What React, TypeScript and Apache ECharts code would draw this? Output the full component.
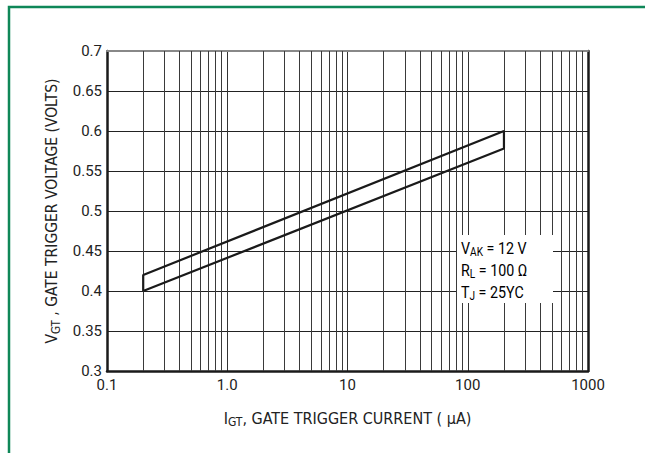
import React, { useEffect, useRef } from "react";
import * as echarts from "echarts";

const xMinorGrid = [0.2, 0.3, 0.4, 0.5, 0.6, 0.7, 0.8, 0.9, 2, 3, 4, 5, 6, 7, 8, 9, 20, 30, 40, 50, 60, 70, 80, 90, 200, 300, 400, 500, 600, 700, 800, 900];
const lowerBound = [[0.2, 0.4], [200, 0.578]];
const upperBound = [[0.2, 0.42], [200, 0.6]];
const conditions = ["V_AK = 12 V", "R_L = 100 Ω", "T_J = 25ΥC"];

const TITLE_FONT = "'DejaVu Sans Condensed', 'DejaVu Sans', sans-serif";
const TICK_FONT = "Roboto, 'Noto Sans', sans-serif";

function makeRich(size: number, sub: number, family: string) {
  return {
    a: { fontFamily: family, fontSize: size, color: "#222", lineHeight: 20, verticalAlign: "middle" },
    s: { fontFamily: family, fontSize: sub, color: "#222", lineHeight: 9, verticalAlign: "bottom" },
  };
}

export default function App() {
  const ref = useRef<HTMLDivElement>(null);
  useEffect(() => {
    if (!ref.current) return;
    const chart = echarts.init(ref.current, undefined, { renderer: "svg" });
    const outline = [lowerBound[0], lowerBound[1], upperBound[1], upperBound[0], lowerBound[0]];
    const condLines = conditions.map((c) => {
      const m = c.match(/^(\w)_(\w+)(.*)$/);
      return m ? `{a|${m[1]}}{s|${m[2]}}{a|${m[3]}}` : `{a|${c}}`;
    });
    chart.setOption({
      animation: false,
      backgroundColor: "#fff",
      grid: { left: 107, right: 57, top: 51, bottom: 82 },
      xAxis: [
        {
          type: "log",
          logBase: 10,
          min: 0.1,
          max: 1000,
          position: "bottom",
          axisLine: { show: true, lineStyle: { color: "#1a1a1a", width: 2.5 } },
          axisTick: { show: false },
          axisLabel: {
            margin: 6,
            fontFamily: TICK_FONT,
            fontSize: 15,
            color: "#222",
            formatter: (v: number) => (v === 1 ? "1.0" : String(v)),
          },
          splitLine: { show: true, lineStyle: { color: "#333", width: 1 } },
          name: "{a|I}{s|GT}{a|, GATE TRIGGER CURRENT ( μA)}",
          nameLocation: "middle",
          nameGap: 37,
          nameTextStyle: { rich: makeRich(16, 12, TITLE_FONT) },
        },
        {
          type: "log",
          logBase: 10,
          min: 0.1,
          max: 1000,
          position: "top",
          axisLine: { show: true, lineStyle: { color: "#888", width: 2 } },
          axisTick: { show: false },
          axisLabel: { show: false },
          splitLine: { show: false },
        },
      ],
      yAxis: [
        {
          type: "value",
          min: 0.3,
          max: 0.7,
          interval: 0.05,
          position: "left",
          axisLine: { show: true, lineStyle: { color: "#1a1a1a", width: 2.5 } },
          axisTick: { show: false },
          axisLabel: {
            margin: 5,
            fontFamily: TICK_FONT,
            fontSize: 15,
            color: "#222",
            formatter: (v: number) => String(Number(v.toFixed(2))),
          },
          splitLine: { show: true, lineStyle: { color: "#222", width: 1 } },
          name: "{a|V}{s|GT}{a| , GATE TRIGGER VOLTAGE (VOLTS)}",
          nameLocation: "middle",
          nameRotate: 90,
          nameGap: 25,
          nameTextStyle: { rich: makeRich(15.5, 11.5, TITLE_FONT) },
        },
        {
          type: "value",
          min: 0.3,
          max: 0.7,
          interval: 0.05,
          position: "right",
          axisLine: { show: true, lineStyle: { color: "#1a1a1a", width: 2.5 } },
          axisTick: { show: false },
          axisLabel: { show: false },
          splitLine: { show: false },
        },
      ],
      series: [
        {
          type: "line",
          data: [],
          markLine: {
            silent: true,
            symbol: "none",
            label: { show: false },
            lineStyle: { color: "#3a3a3a", width: 1, type: "solid" },
            data: xMinorGrid.map((x) => ({ xAxis: x })),
          },
        },
        {
          type: "line",
          data: outline,
          showSymbol: false,
          symbol: "none",
          lineStyle: { color: "#1a1a1a", width: 2.2 },
          z: 5,
        },
      ],
      graphic: [
        {
          type: "rect",
          shape: { x: 9, y: 7, width: 700, height: 500 },
          style: { fill: "none", stroke: "#0f8758", lineWidth: 2.5 },
          z: 100,
        },
        {
          type: "rect",
          shape: { x: 457, y: 235, width: 96, height: 68 },
          style: { fill: "#fff", stroke: "none" },
          z: 50,
        },
        ...condLines.map((t, i) => ({
          type: "text",
          x: 461,
          y: 248 + i * 22,
          scaleX: 0.84,
          z: 51,
          style: { text: t, rich: makeRich(17, 12, TICK_FONT), verticalAlign: "middle", align: "left" },
        })),
      ],
    });
    return () => chart.dispose();
  }, []);
  return <div ref={ref} style={{ position: "fixed", left: 0, top: 0, width: 645, height: 453 }} />;
}
